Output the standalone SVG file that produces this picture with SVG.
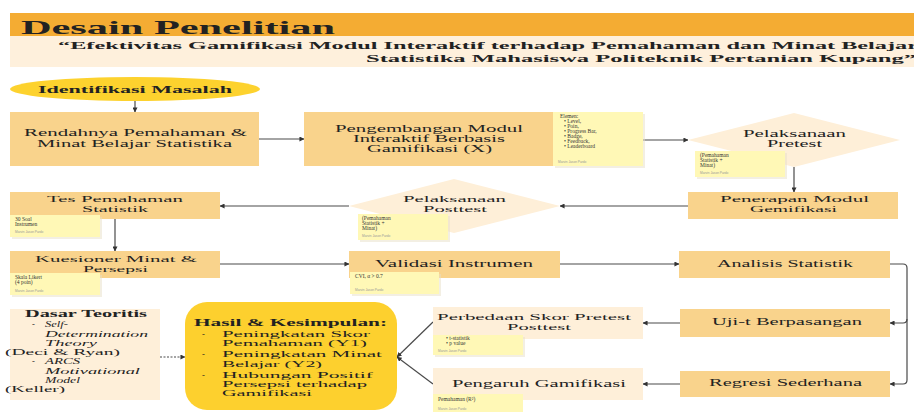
<svg xmlns="http://www.w3.org/2000/svg" width="914" height="412" viewBox="0 0 914 412">
<style>
.t{font-family:"Liberation Serif","DejaVu Serif",serif;fill:#222}
.lbl{font-size:10px;text-anchor:start}
.sm{font-size:8.5px}
.tw{font-size:9px}
.b{font-weight:bold}
.node{fill:#F9D38C}
.light{fill:#FEEFD9}
.sticky{fill:#FFF8B6}
.shadow{fill:#e8e0c8;opacity:0.5}
.st{font-family:"Liberation Serif","DejaVu Serif",serif;font-size:5.5px;fill:#333}
.ft{font-family:"Liberation Sans","DejaVu Sans",sans-serif;font-size:3.2px;fill:#999}
.con{fill:none;stroke:#4a4a4a;stroke-width:1.2}
</style>
<defs>
<marker id="ah" viewBox="0 0 6 6" refX="5.5" refY="3" markerWidth="5" markerHeight="5" markerUnits="userSpaceOnUse" orient="auto">
<path d="M0,0 L6,3 L0,6 z" fill="#333"/>
</marker>
</defs>
<rect x="0" y="0" width="914" height="412" fill="#fff"/>
<g id="header">
<rect x="10" y="13" width="904" height="23" fill="#F4AC33"/>
<rect x="10" y="36" width="904" height="31" fill="#FEF0DC"/>
<text class="t b" x="21" y="34" font-size="19" textLength="314" lengthAdjust="spacingAndGlyphs">Desain Penelitian</text>
<text class="t b" x="58" y="49" font-size="9.5" textLength="860" lengthAdjust="spacingAndGlyphs">“Efektivitas Gamifikasi Modul Interaktif terhadap Pemahaman dan Minat Belajar</text>
<text class="t b" x="366" y="62" font-size="9.5" textLength="550" lengthAdjust="spacingAndGlyphs">Statistika Mahasiswa Politeknik Pertanian Kupang”</text>
</g>
<g id="connectors">
<path class="con" d="M135,101 V112" marker-end="url(#ah)"/>
<path class="con" d="M259,139 H304" stroke="#999" marker-end="url(#ah)"/>
<path class="con" d="M643,140 H688" marker-end="url(#ah)"/>
<path class="con" d="M794,167 V192" marker-end="url(#ah)"/>
<path class="con" d="M688,206 H560" marker-end="url(#ah)"/>
<path class="con" d="M349,206 H220" marker-end="url(#ah)"/>
<path class="con" d="M115,219 V251" marker-end="url(#ah)"/>
<path class="con" d="M220,264 H349" marker-end="url(#ah)"/>
<path class="con" d="M560,264 H679" marker-end="url(#ah)"/>
<path class="con" d="M890,264 H903 Q907,264 907,268 V319 Q907,323 903,323 H890" marker-end="url(#ah)"/>
<path class="con" d="M907,319 V380 Q907,384 903,384 H890" marker-end="url(#ah)"/>
<path class="con" d="M680,323 H643" marker-end="url(#ah)"/>
<path class="con" d="M680,384 H643" marker-end="url(#ah)"/>
<path class="con" d="M433,322 L397,357" marker-end="url(#ah)"/>
<path class="con" d="M433,384 L397,357" marker-end="url(#ah)"/>
<path class="con" d="M160,357 H185" stroke-dasharray="2,1.5" marker-end="url(#ah)"/>
</g>
<g id="identifikasi">
<ellipse cx="135" cy="89" rx="125" ry="12" fill="#FDD22E"/>
<text class="t lbl b" x="38" y="93" font-size="11" textLength="194" lengthAdjust="spacingAndGlyphs">Identifikasi Masalah</text>
</g>
<g id="rendahnya">
<rect class="node" x="10" y="112" width="249" height="54"/>
<text class="t lbl" x="24" y="136" textLength="223" lengthAdjust="spacingAndGlyphs">Rendahnya Pemahaman &amp;</text>
<text class="t lbl" x="37" y="147" textLength="195" lengthAdjust="spacingAndGlyphs">Minat Belajar Statistika</text>
</g>
<g id="pengembangan">
<rect class="node" x="304" y="112" width="249" height="54"/>
<text class="t lbl" x="335" y="132" textLength="188" lengthAdjust="spacingAndGlyphs">Pengembangan Modul</text>
<text class="t lbl" x="353" y="142" textLength="152" lengthAdjust="spacingAndGlyphs">Interaktif Berbasis</text>
<text class="t lbl" x="367" y="152" textLength="125" lengthAdjust="spacingAndGlyphs">Gamifikasi (X)</text>
<rect class="shadow" x="555" y="114" width="90" height="54"/>
<rect class="sticky" x="553" y="112" width="90" height="54"/>
<text class="st" x="560" y="118">Elemen:</text>
<text class="st" x="564" y="123">•  Level,</text>
<text class="st" x="564" y="128">•  Poin,</text>
<text class="st" x="564" y="133">•  Progress Bar,</text>
<text class="st" x="564" y="138">•  Badge,</text>
<text class="st" x="564" y="143">•  Feedback,</text>
<text class="st" x="564" y="148">•  Leaderboard</text>
<text class="ft" x="558" y="163">Marvin Jason Pardo</text>
</g>
<g id="pretest">
<polygon points="688,140 794,113 900,140 794,167" fill="#FEEFD8"/>
<text class="t lbl" x="743" y="137" textLength="103" lengthAdjust="spacingAndGlyphs">Pelaksanaan</text>
<text class="t lbl" x="767" y="147" textLength="55" lengthAdjust="spacingAndGlyphs">Pretest</text>
<rect class="shadow" x="697" y="153" width="90" height="26"/>
<rect class="sticky" x="695" y="151" width="90" height="26"/>
<text class="st" x="700" y="157">(Pemahaman</text>
<text class="st" x="700" y="162">Statistik  +</text>
<text class="st" x="700" y="167">Minat)</text>
<text class="ft" x="700" y="174">Marvin Jason Pardo</text>
</g>
<g id="penerapan">
<rect class="node" x="688" y="192" width="210" height="27"/>
<text class="t lbl tw" x="720" y="202" textLength="149" lengthAdjust="spacingAndGlyphs">Penerapan Modul</text>
<text class="t lbl tw" x="750" y="212" textLength="87" lengthAdjust="spacingAndGlyphs">Gemifikasi</text>
</g>
<g id="posttest">
<polygon points="349,206 454,179 560,206 454,233" fill="#FEEFD8"/>
<text class="t lbl tw" x="403" y="202" textLength="103" lengthAdjust="spacingAndGlyphs">Pelaksanaan</text>
<text class="t lbl tw" x="423" y="212" textLength="64" lengthAdjust="spacingAndGlyphs">Posttest</text>
<rect class="shadow" x="360" y="216" width="90" height="26"/>
<rect class="sticky" x="358" y="214" width="90" height="26"/>
<text class="st" x="362" y="220">(Pemahaman</text>
<text class="st" x="362" y="225">Statistik  +</text>
<text class="st" x="362" y="230">Minat)</text>
<text class="ft" x="362" y="237">Marvin Jason Pardo</text>
</g>
<g id="tes">
<rect class="node" x="10" y="192" width="210" height="27"/>
<text class="t lbl tw" x="47" y="202" textLength="136" lengthAdjust="spacingAndGlyphs">Tes Pemahaman</text>
<text class="t lbl tw" x="82" y="212" textLength="66" lengthAdjust="spacingAndGlyphs">Statistik</text>
<rect class="shadow" x="12" y="217" width="90" height="22"/>
<rect class="sticky" x="10" y="215" width="90" height="22"/>
<text class="st" x="15" y="221">30 Soal</text>
<text class="st" x="15" y="226">Instrumen</text>
<text class="ft" x="15" y="233">Marvin Jason Pardo</text>
</g>
<g id="kuesioner">
<rect class="node" x="10" y="251" width="210" height="27"/>
<text class="t lbl tw" x="35" y="262" textLength="162" lengthAdjust="spacingAndGlyphs">Kuesioner Minat &amp;</text>
<text class="t lbl tw" x="83" y="272" textLength="65" lengthAdjust="spacingAndGlyphs">Persepsi</text>
<rect class="shadow" x="12" y="275" width="90" height="22"/>
<rect class="sticky" x="10" y="273" width="90" height="22"/>
<text class="st" x="15" y="279">Skala Likert</text>
<text class="st" x="15" y="284">(4 poin)</text>
<text class="ft" x="15" y="292">Marvin Jason Pardo</text>
</g>
<g id="validasi">
<rect class="node" x="349" y="251" width="211" height="27"/>
<text class="t lbl" x="375" y="267" font-size="11" textLength="158" lengthAdjust="spacingAndGlyphs">Validasi Instrumen</text>
<rect class="shadow" x="352" y="274" width="89" height="22"/>
<rect class="sticky" x="350" y="272" width="89" height="22"/>
<text class="st" x="355" y="278">CVI, α &gt; 0.7</text>
<text class="ft" x="355" y="291">Marvin Jason Pardo</text>
</g>
<g id="analisis">
<rect class="node" x="679" y="251" width="211" height="27"/>
<text class="t lbl" x="717" y="267" textLength="136" lengthAdjust="spacingAndGlyphs">Analisis Statistik</text>
</g>
<g id="ujit">
<rect class="node" x="680" y="309" width="210" height="28"/>
<text class="t lbl" x="712" y="325" textLength="150" lengthAdjust="spacingAndGlyphs">Uji-t Berpasangan</text>
</g>
<g id="regresi">
<rect class="node" x="680" y="371" width="210" height="26"/>
<text class="t lbl" x="709" y="386" textLength="153" lengthAdjust="spacingAndGlyphs">Regresi Sederhana</text>
</g>
<g id="perbedaan">
<rect class="light" x="433" y="307" width="210" height="32"/>
<text class="t lbl tw" x="437" y="320" textLength="194" lengthAdjust="spacingAndGlyphs">Perbedaan Skor Pretest</text>
<text class="t lbl tw" x="507" y="330" textLength="64" lengthAdjust="spacingAndGlyphs">Posttest</text>
<rect class="shadow" x="435" y="337" width="90" height="20"/>
<rect class="sticky" x="433" y="335" width="90" height="20"/>
<text class="st" x="446" y="340">•  t-statistik</text>
<text class="st" x="446" y="345">•  p value</text>
<text class="ft" x="438" y="352">Marvin Jason Pardo</text>
</g>
<g id="pengaruh">
<rect class="light" x="433" y="368" width="210" height="32"/>
<text class="t lbl" x="452" y="387" font-size="11" textLength="174" lengthAdjust="spacingAndGlyphs">Pengaruh Gamifikasi</text>
<rect class="sticky" x="433" y="394" width="90" height="18"/>
<text class="st" x="438" y="401">Pemahaman (R²)</text>
<text class="ft" x="438" y="410">Marvin Jason Pardo</text>
</g>
<g id="hasil">
<rect x="185" y="302" width="212" height="108" rx="22" fill="#FDD02E"/>
<text class="t lbl b" x="194" y="326" font-size="11" textLength="193" lengthAdjust="spacingAndGlyphs">Hasil &amp; Kesimpulan:</text>
<text class="t lbl sm" x="202" y="337">-</text>
<text class="t lbl sm" x="222" y="337" textLength="148" lengthAdjust="spacingAndGlyphs">Peningkatan Skor</text>
<text class="t lbl sm" x="222" y="346" textLength="145" lengthAdjust="spacingAndGlyphs">Pemahaman (Y1)</text>
<text class="t lbl sm" x="202" y="357">-</text>
<text class="t lbl sm" x="222" y="357" textLength="160" lengthAdjust="spacingAndGlyphs">Peningkatan Minat</text>
<text class="t lbl sm" x="222" y="367" textLength="100" lengthAdjust="spacingAndGlyphs">Belajar (Y2)</text>
<text class="t lbl sm" x="202" y="378">-</text>
<text class="t lbl sm" x="222" y="378" textLength="151" lengthAdjust="spacingAndGlyphs">Hubungan Positif</text>
<text class="t lbl sm" x="222" y="387" textLength="145" lengthAdjust="spacingAndGlyphs">Persepsi terhadap</text>
<text class="t lbl sm" x="222" y="396" textLength="90" lengthAdjust="spacingAndGlyphs">Gamifikasi</text>
</g>
<g id="dasar">
<rect class="light" x="10" y="309" width="150" height="91"/>
<text class="t lbl b" x="25" y="317" font-size="9" textLength="122" lengthAdjust="spacingAndGlyphs">Dasar Teoritis</text>
<text class="t lbl sm" x="32" y="327">-</text>
<text class="t lbl sm" x="45" y="327" font-style="italic" textLength="23" lengthAdjust="spacingAndGlyphs">Self-</text>
<text class="t lbl sm" x="45" y="337" font-style="italic" textLength="103" lengthAdjust="spacingAndGlyphs">Determination</text>
<text class="t lbl sm" x="45" y="346" font-style="italic" textLength="52" lengthAdjust="spacingAndGlyphs">Theory</text>
<text class="t lbl sm" x="5" y="355" textLength="115" lengthAdjust="spacingAndGlyphs">(Deci &amp; Ryan)</text>
<text class="t lbl sm" x="32" y="364">-</text>
<text class="t lbl sm" x="45" y="364" font-style="italic" textLength="35" lengthAdjust="spacingAndGlyphs">ARCS</text>
<text class="t lbl sm" x="45" y="374" font-style="italic" textLength="95" lengthAdjust="spacingAndGlyphs">Motivational</text>
<text class="t lbl sm" x="45" y="383" font-style="italic" textLength="35" lengthAdjust="spacingAndGlyphs">Model</text>
<text class="t lbl sm" x="5" y="392" textLength="60" lengthAdjust="spacingAndGlyphs">(Keller)</text>
</g>
</svg>
